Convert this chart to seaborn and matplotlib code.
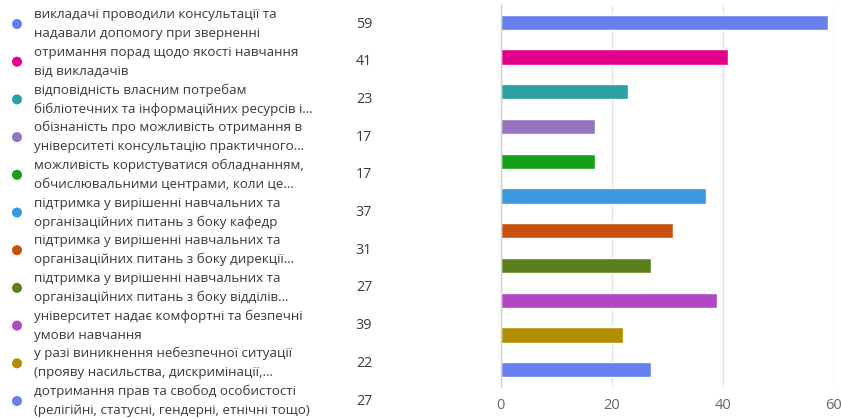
import matplotlib
matplotlib.use("Agg")
import matplotlib.pyplot as plt
import seaborn as sns
import pandas as pd

categories = [
    "викладачі проводили консультації та\nнадавали допомогу при зверненні",
    "отримання порад щодо якості навчання\nвід викладачів",
    "відповідність власним потребам\nбібліотечних та інформаційних ресурсів і…",
    "обізнаність про можливість отримання в\nуніверситеті консультацію практичного…",
    "можливість користуватися обладнанням,\nобчислювальними центрами, коли це…",
    "підтримка у вирішенні навчальних та\nорганізаційних питань з боку кафедр",
    "підтримка у вирішенні навчальних та\nорганізаційних питань з боку дирекції…",
    "підтримка у вирішенні навчальних та\nорганізаційних питань з боку відділів…",
    "університет надає комфортні та безпечні\nумови навчання",
    "у разі виникнення небезпечної ситуації\n(прояву насильства, дискримінації,…",
    "дотримання прав та свобод особистості\n(релігійні, статусні, гендерні, етнічні тощо)",
]
values = [59, 41, 23, 17, 17, 37, 31, 27, 39, 22, 27]
colors = ["#6680EE", "#E3008C", "#2BA0A5", "#9473BF", "#14A01A", "#3B98DE",
          "#CA5011", "#5A801E", "#B147C3", "#B08E00", "#6680EE"]
x_ticks = [0, 20, 40, 60]

sns.set_theme(style="white")
plt.rcParams['font.family'] = ['Open Sans', 'DejaVu Sans']

W, H = 841, 419
fig = plt.figure(figsize=(W / 100, H / 100), dpi=100)

df = pd.DataFrame({"cat": categories, "val": values})

ax = fig.add_axes([500.7 / W, 1 - 387 / H, (834 - 500.7) / W, (387 - 5) / H])
sns.barplot(data=df, x="val", y="cat", hue="cat", palette=colors, orient="h",
            width=0.44, legend=False, ax=ax, saturation=1)
ax.set_xlim(0, 60)
ax.set_ylim(len(categories) - 0.5, -0.5)
ax.set_xticks(x_ticks)
ax.set_xticklabels([str(t) for t in x_ticks])
ax.set_yticks([])
ax.set_xlabel("")
ax.set_ylabel("")
ax.grid(axis="x", color="#e3e3e3", linewidth=1)
ax.set_axisbelow(True)
for s in ["top", "right", "bottom"]:
    ax.spines[s].set_visible(False)
ax.spines["left"].set_color("#d0d0d0")
ax.spines["left"].set_linewidth(1)
ax.tick_params(axis="x", length=0, pad=8, labelsize=10.5, labelcolor="#666666")

# legend area
lax = fig.add_axes([0, 0, 1, 1], zorder=-1)
lax.set_xlim(0, W)
lax.set_ylim(H, 0)
lax.axis("off")
step = 37.7
for i, (lab, v, c) in enumerate(zip(categories, values, colors)):
    yc = 24 + step * i
    lax.scatter([17], [yc], s=52, color=c, edgecolors="none")
    l1, l2 = lab.split("\n")
    lax.text(34, yc - 9.5, l1, fontsize=9.6, color="#3a3a3a", va="center", ha="left")
    lax.text(34, yc + 9.5, l2, fontsize=9.6, color="#3a3a3a", va="center", ha="left")
    lax.text(364, yc, str(v), fontsize=10.3, color="#3a3a3a", va="center", ha="center")

fig.savefig("out.png", dpi=100)
